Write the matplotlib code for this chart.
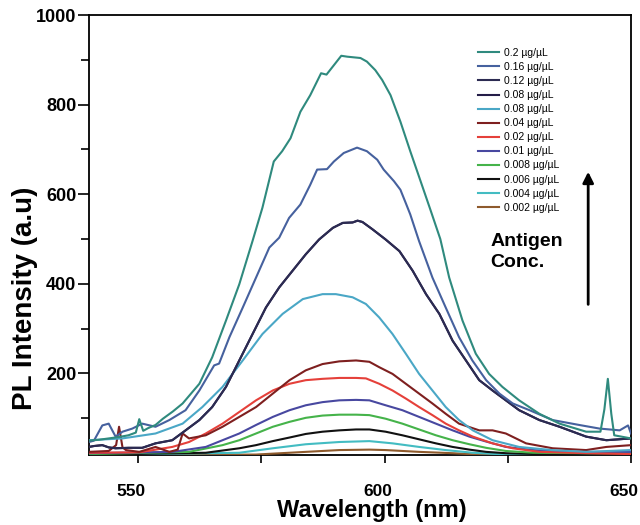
import matplotlib
matplotlib.use("Agg")
import matplotlib.pyplot as plt
from matplotlib.ticker import FixedLocator
from matplotlib.transforms import ScaledTranslation

plt.rcParams['font.family'] = ['Liberation Sans', 'DejaVu Sans']

# ---- data (wavelength nm, PL intensity a.u.) ----
wl_02 = [540, 542, 544, 546, 548, 549.5, 550.2, 551, 552, 553.5, 555, 557, 559, 562.4, 565, 567.8,
         570.5, 573.2, 575.2, 577.5, 579.2, 580.9, 582.9, 584.9, 587.1, 588.2, 589.7, 591.2, 592.4,
         595.1, 596.4, 598.1, 599.5, 601.2, 603.2, 605.2, 607.3, 609.3, 611.3, 613.1, 615.8, 618.5,
         621.2, 623.9, 627.3, 631.4, 635.5, 640.9, 643.8, 644.6, 645.3, 646.0, 646.6, 650]
in_02 = [50, 52, 55, 58, 62, 68, 98, 72, 78, 85, 99, 115, 133, 177, 236, 318,
         399, 496, 570, 673, 696, 725, 784, 821, 870, 867, 888, 909, 907,
         904, 896, 877, 855, 821, 762, 696, 629, 565, 500, 414, 318, 244,
         199, 170, 140, 110, 88, 70, 70, 120, 188, 110, 62, 55]

wl_016 = [540, 541, 542.7, 544, 545.4, 546.8, 548.8, 550.8, 553.5, 556.3, 559.6, 562.4, 565.4, 566.4,
          568.5, 571.2, 573.9, 576.6, 578.6, 580.6, 582.9, 584.9, 586.3, 588.3, 589.7, 591.7, 594.4,
          596.4, 598.5, 599.8, 601.9, 603.2, 604.3, 605.2, 607, 609.7, 612.4, 615.1, 617.8, 620.6,
          623.3, 626, 629.4, 634.1, 639.5, 643.6, 647.7, 649.4, 650]
in_016 = [47, 50, 84, 88, 59, 70, 77, 88, 81, 96, 118, 162, 218, 222,
          281, 347, 414, 481, 503, 547, 577, 621, 655, 656, 673, 692, 704,
          696, 677, 655, 629, 610, 580, 555, 495, 414, 347, 281, 229, 185,
          155, 133, 118, 96, 85, 77, 73, 84, 66]

wl_012 = [540, 541, 542.7, 544, 545.4, 548, 550.8, 553.5, 556.9, 559.6, 562.4, 565, 567.8, 570.5,
          573.2, 575.9, 578.6, 581.3, 584, 586.7, 589.5, 591.5, 593.5, 594.5, 595.5, 597.5, 600.2,
          603, 605.7, 608.4, 611.1, 613.8, 616.5, 619.2, 621.9, 624.6, 627.3, 631.4, 635.5, 640.9,
          645, 650]
in_012 = [36, 38, 40, 35, 33, 34, 34, 44, 51, 73, 96, 125, 170, 229,
          288, 347, 392, 429, 466, 499, 525, 536, 537, 541, 538, 522, 499,
          473, 429, 377, 333, 273, 229, 185, 162, 140, 118, 96, 81, 59,
          51, 55]

wl_008a = wl_012
in_008a = in_012

wl_008b = [540, 546.8, 553.5, 559, 563, 567.1, 571.2, 575.2, 579.3, 583.4, 587.4, 590.1, 593.5, 596.2,
           598.9, 601.6, 604.3, 607, 609.7, 612.4, 615.1, 617.9, 621.9, 627.3, 634, 640.9, 650]
in_008b = [51, 55, 66, 88, 125, 170, 229, 288, 333, 366, 377, 377, 370, 355,
           325, 288, 244, 199, 162, 125, 96, 73, 51, 36, 29, 25, 29]

wl_004c = [540, 544, 545.5, 546.1, 546.8, 547.5, 550.2, 553.5, 556.3, 558, 559, 560.3, 563.7, 567.1,
           570.5, 573.9, 577.3, 580.7, 584, 587.4, 590.8, 594.2, 596.9, 598.9, 601.6, 604.3, 607,
           609.7, 612.4, 615.1, 619.2, 621.9, 624.6, 628.7, 634.1, 640.9, 645, 650]
in_004c = [25, 27, 40, 81, 35, 29, 25, 36, 25, 30, 66, 55, 62, 81,
           103, 125, 155, 185, 207, 221, 227, 229, 226, 214, 199, 177, 155,
           133, 110, 88, 73, 73, 66, 44, 33, 29, 36, 40]

wl_002 = [540, 550.2, 556.9, 560.3, 563.7, 567.1, 570.5, 573.9, 577.3, 580.7, 584, 587.4, 590.8, 594.2,
          596.2, 598.9, 601.6, 604.3, 607, 609.7, 612.4, 615.1, 617.9, 621.9, 626, 631.4, 640.9, 650]
in_002 = [23, 24, 36, 47, 66, 88, 114, 140, 162, 177, 185, 188, 190, 190,
          189, 177, 162, 144, 125, 107, 88, 73, 59, 44, 33, 25, 22, 20]

wl_001 = [540, 557, 563.7, 567.1, 570.5, 573.9, 577.3, 580.7, 584, 587.4, 590.8, 594.2, 596.9, 600.2,
          603.6, 607, 610.4, 613.8, 617.2, 620.6, 624.6, 630.1, 636.8, 650]
in_001 = [22, 25, 36, 51, 66, 85, 103, 118, 129, 136, 140, 141, 140, 129,
          118, 103, 88, 73, 59, 48, 36, 29, 25, 25]

wl_0008 = [540, 560.3, 567.1, 570.5, 573.9, 577.3, 580.7, 584, 587.4, 590.8, 594.2, 596.9, 600.2,
           603.6, 607, 610.4, 613.8, 617.2, 620.6, 624.6, 630.1, 640.9, 650]
in_0008 = [20, 25, 40, 51, 66, 81, 92, 101, 106, 108, 108, 107, 99,
           88, 75, 62, 51, 42, 34, 27, 23, 22, 22]

wl_0006 = [540, 563.7, 570.5, 573.9, 577.3, 580.7, 584, 587.4, 590.8, 594.2, 596.9, 600.2, 603.6,
           607, 610.4, 613.8, 617.2, 620.6, 624.6, 634.1, 650]
in_0006 = [18.5, 23, 33, 40, 49, 57, 65, 70, 73, 75, 75, 70, 62,
           53, 44, 36, 30, 25, 22, 19, 19]

wl_0004 = [540, 570.5, 577.3, 584, 590.8, 596.9, 601.6, 607, 612.4, 617.9, 624.6, 650]
in_0004 = [18, 23, 33, 42, 47, 49, 44, 36, 29, 23, 19, 18]

wl_0002 = [540, 573.9, 584, 590.8, 596.9, 600.2, 607, 613.8, 620.6, 650]
in_0002 = [17, 19, 25, 29, 30, 29, 25, 22, 18, 17]

labels = ["0.2 µg/µL", "0.16 µg/µL", "0.12 µg/µL", "0.08 µg/µL", "0.08 µg/µL", "0.04 µg/µL",
          "0.02 µg/µL", "0.01 µg/µL", "0.008 µg/µL", "0.006 µg/µL", "0.004 µg/µL", "0.002 µg/µL"]
series = [(wl_02, in_02), (wl_016, in_016), (wl_012, in_012), (wl_008a, in_008a),
          (wl_008b, in_008b), (wl_004c, in_004c), (wl_002, in_002), (wl_001, in_001),
          (wl_0008, in_0008), (wl_0006, in_0006), (wl_0004, in_0004), (wl_0002, in_0002)]
colors = ["#2f8a7e", "#46619e", "#2c2b52", "#241d48", "#4aa7c6", "#7e1f1f",
          "#e5403a", "#4848a0", "#45b34a", "#111111", "#43bcc2", "#8e5a2c"]

fig = plt.figure(figsize=(6.4, 5.25), dpi=100)
ax = fig.add_axes([89/640, 70/525, 542/640, 440/525])

handles = []
for i in range(len(series) - 1, -1, -1):
    x, y = series[i]
    ln, = ax.plot(x, y, color=colors[i], lw=1.5, label=labels[i], zorder=3)
    handles.append(ln)
handles = handles[::-1]

ax.set_xlim(540, 650)
ax.set_ylim(18, 1000)

ax.xaxis.set_major_locator(FixedLocator([550, 600, 650]))
ax.xaxis.set_minor_locator(FixedLocator([575, 625]))
ax.yaxis.set_major_locator(FixedLocator([200, 400, 600, 800, 1000]))
ax.yaxis.set_minor_locator(FixedLocator([100, 300, 500, 700, 900]))

ax.tick_params(axis='x', which='both', direction='out', length=6, width=1.2, pad=15,
               labelsize=12.5)
ax.tick_params(axis='y', which='major', direction='out', length=8, width=1.2, pad=1,
               labelsize=13)
ax.tick_params(axis='y', which='minor', direction='out', length=6, width=1.2)
shift = ScaledTranslation(-0.07, 0, fig.dpi_scale_trans)
for t in ax.get_xticklabels():
    t.set_fontweight('bold')
    t.set_transform(t.get_transform() + shift)
for t in ax.get_yticklabels():
    t.set_fontweight('bold')
for s in ax.spines.values():
    s.set_linewidth(1.3)

ax.set_xlabel("Wavelength (nm)", fontsize=17, fontweight='bold')
ax.xaxis.set_label_coords(0.522, -0.100, transform=ax.transAxes)
ax.xaxis.label.set_va('top')
ax.set_ylabel("PL Intensity (a.u)", fontsize=20, fontweight='bold')
ax.yaxis.set_label_coords(-0.118, 0.356, transform=ax.transAxes)
ax.yaxis.label.set_va('center')

leg = ax.legend(handles=handles, labels=labels, loc='upper left',
                bbox_to_anchor=(0.718, 0.925), frameon=False, fontsize=7.5,
                handlelength=2.0, handletextpad=0.5, labelspacing=0.39, borderpad=0,
                borderaxespad=0)

ax.annotate("", xy=(0.921, 0.65), xytext=(0.921, 0.336), xycoords='axes fraction',
            textcoords='axes fraction',
            arrowprops=dict(arrowstyle='-|>', lw=2, color='black', mutation_scale=16))
ax.text(0.74, 0.505, "Antigen\nConc.", transform=ax.transAxes, fontsize=14,
        fontweight='bold', va='top', ha='left', linespacing=1.3)

fig.savefig("out.png", dpi=100)
